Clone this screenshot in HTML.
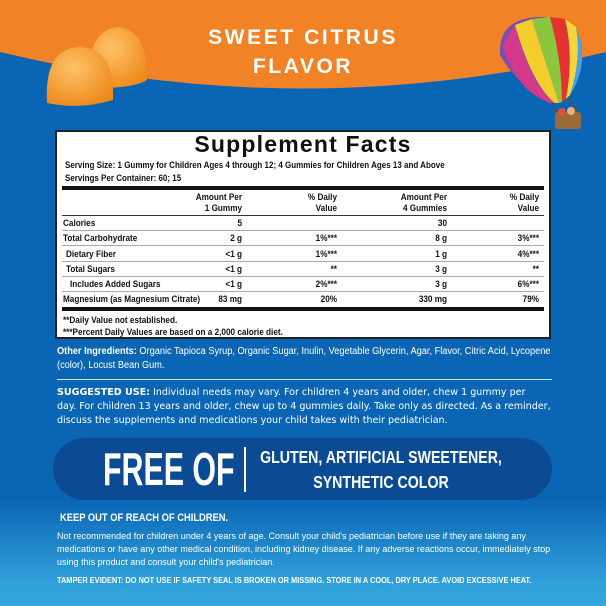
<!DOCTYPE html>
<html><head><meta charset="utf-8"><style>
*{margin:0;padding:0;box-sizing:border-box}
body{width:606px;height:606px;overflow:hidden;position:relative;font-family:"Liberation Sans",sans-serif;
background:linear-gradient(to bottom,#0a66b5 0px,#0a66b5 500px,#2f9fd9 580px,#36a8de 606px);}
.a{position:absolute;white-space:nowrap}
.n{transform:scaleX(var(--s,0.86));transform-origin:left top}
.t{color:#111;font-weight:bold;font-size:9.5px}
.r{text-align:right;transform-origin:right top}
.w{color:#fff}
</style></head><body>
<svg class="a" style="left:0;top:0" width="606" height="140">
<path d="M0 0H606V52Q303 125 0 52Z" fill="#f28226"/>
<defs><radialGradient id="g" cx="40%" cy="35%" r="70%"><stop offset="0" stop-color="#ffc268"/><stop offset="1" stop-color="#ee8a1c"/></radialGradient></defs>
<path d="M88 87Q86 30 118 27Q148 30 147 80Q130 90 88 87Z" fill="url(#g)"/>
<path d="M47 103Q44 48 80 47Q115 48 113 100Q80 110 47 103Z" fill="url(#g)"/>
<g>
<path d="M500 55Q498 18 540 17Q584 18 582 55Q580 85 556 103Q520 90 500 55Z" fill="#7a4fb0"/>
<path d="M503 45Q515 90 550 103L555 103Q530 85 515 25Z" fill="#d43a8c"/>
<path d="M515 25Q532 85 555 103L559 103Q548 70 532 19Z" fill="#f3cd2c"/>
<path d="M532 19Q548 70 559 103L562 102Q562 60 550 17Z" fill="#8cc63f"/>
<path d="M550 17Q562 60 562 102L566 99Q574 55 565 19Z" fill="#e2332f"/>
<path d="M565 19Q574 55 566 99L570 95Q582 58 576 27Z" fill="#f6d43c"/>
<path d="M576 27Q582 58 570 95Q586 70 581 42Z" fill="#4aa3e0"/>
<line x1="552" y1="103" x2="557" y2="113" stroke="#6b4a2a"/><line x1="568" y1="97" x2="578" y2="113" stroke="#6b4a2a"/>
<rect x="555" y="112" width="26" height="17" rx="3" fill="#9a6a3a"/>
<circle cx="562" cy="112" r="4" fill="#e05040"/><circle cx="571" cy="111" r="4" fill="#f0b070"/>
</g>
</svg>
<div class="a w" style="left:0;width:606px;top:23px;text-align:center;font-size:21px;font-weight:bold;letter-spacing:2.6px;line-height:29px;">SWEET CITRUS<br>FLAVOR</div>

<div class="a" style="left:55px;top:130px;width:496px;height:209px;background:#fff;border:2px solid #222;"></div>
<div class="a" style="left:0;width:606px;top:131px;text-align:center;font-size:23px;font-weight:bold;color:#111;letter-spacing:1.2px">Supplement Facts</div>
<div class="a n t" style="--s:0.89;left:65px;top:159px;font-size:9px;line-height:12.5px">Serving Size: 1 Gummy for Children Ages 4 through 12; 4 Gummies for Children Ages 13 and Above<br>Servings Per Container: 60; 15</div>
<div class="a" style="left:62px;top:186px;width:482px;height:4px;background:#111"></div>
<div class="a n t r" style="left:142px;width:100px;top:193px;line-height:10.5px">Amount Per<br>1 Gummy</div>
<div class="a n t r" style="left:237px;width:100px;top:193px;line-height:10.5px">% Daily<br>Value</div>
<div class="a n t r" style="left:347px;width:100px;top:193px;line-height:10.5px">Amount Per<br>4 Gummies</div>
<div class="a n t r" style="left:439px;width:100px;top:193px;line-height:10.5px">% Daily<br>Value</div>
<div class="a" style="left:62px;top:215px;width:482px;height:1px;background:#333"></div>
<div class="a" style="left:62px;top:230px;width:482px;height:1px;background:#aaa"></div>
<div class="a" style="left:62px;top:245px;width:482px;height:1px;background:#aaa"></div>
<div class="a" style="left:62px;top:261px;width:482px;height:1px;background:#aaa"></div>
<div class="a" style="left:62px;top:276px;width:482px;height:1px;background:#aaa"></div>
<div class="a" style="left:62px;top:291px;width:482px;height:1px;background:#aaa"></div>
<div class="a" style="left:62px;top:307px;width:482px;height:4px;background:#111"></div>

<div class="a n t" style="left:63px;top:218px">Calories</div>
<div class="a n t r" style="left:142px;width:100px;top:218px">5</div>
<div class="a n t r" style="left:347px;width:100px;top:218px">30</div>

<div class="a n t" style="left:63px;top:233px">Total Carbohydrate</div>
<div class="a n t r" style="left:142px;width:100px;top:233px">2 g</div>
<div class="a n t r" style="left:237px;width:100px;top:233px">1%***</div>
<div class="a n t r" style="left:347px;width:100px;top:233px">8 g</div>
<div class="a n t r" style="left:439px;width:100px;top:233px">3%***</div>

<div class="a n t" style="left:66px;top:249px">Dietary Fiber</div>
<div class="a n t r" style="left:142px;width:100px;top:249px">&lt;1 g</div>
<div class="a n t r" style="left:237px;width:100px;top:249px">1%***</div>
<div class="a n t r" style="left:347px;width:100px;top:249px">1 g</div>
<div class="a n t r" style="left:439px;width:100px;top:249px">4%***</div>

<div class="a n t" style="left:66px;top:264px">Total Sugars</div>
<div class="a n t r" style="left:142px;width:100px;top:264px">&lt;1 g</div>
<div class="a n t r" style="left:237px;width:100px;top:264px">**</div>
<div class="a n t r" style="left:347px;width:100px;top:264px">3 g</div>
<div class="a n t r" style="left:439px;width:100px;top:264px">**</div>

<div class="a n t" style="left:70px;top:279px">Includes Added Sugars</div>
<div class="a n t r" style="left:142px;width:100px;top:279px">&lt;1 g</div>
<div class="a n t r" style="left:237px;width:100px;top:279px">2%***</div>
<div class="a n t r" style="left:347px;width:100px;top:279px">3 g</div>
<div class="a n t r" style="left:439px;width:100px;top:279px">6%***</div>

<div class="a n t" style="left:63px;top:294px">Magnesium (as Magnesium Citrate)</div>
<div class="a n t r" style="left:142px;width:100px;top:294px">83 mg</div>
<div class="a n t r" style="left:237px;width:100px;top:294px">20%</div>
<div class="a n t r" style="left:347px;width:100px;top:294px">330 mg</div>
<div class="a n t r" style="left:439px;width:100px;top:294px">79%</div>

<div class="a n t" style="--s:0.91;left:63px;top:314px;font-size:9px;line-height:12px">**Daily Value not established.<br>***Percent Daily Values are based on a 2,000 calorie diet.</div>

<div class="a n w" style="--s:0.94;left:57px;top:345px;font-size:9.8px;line-height:14px"><b>Other Ingredients:</b> Organic Tapioca Syrup, Organic Sugar, Inulin, Vegetable Glycerin, Agar, Flavor, Citric Acid, Lycopene<br>(color), Locust Bean Gum.</div>
<div class="a" style="left:57px;top:379px;width:495px;height:1px;background:#cfe3f5"></div>
<div class="a n w" style="--s:0.995;left:57px;top:386px;font-family:'DejaVu Sans','Liberation Sans',sans-serif;font-size:9.6px;line-height:14px"><b>SUGGESTED USE:</b> Individual needs may vary. For children 4 years and older, chew 1 gummy per<br>day. For children 13 years and older, chew up to 4 gummies daily. Take only as directed. As a reminder,<br>discuss the supplements and medications your child takes with their pediatrician.</div>

<div class="a" style="left:53px;top:438px;width:499px;height:62px;border-radius:31px;background:#0b4b93"></div>
<div class="a n w" style="--s:0.66;left:103px;top:442px;font-size:46px;font-weight:bold;line-height:54px">FREE OF</div>
<div class="a" style="left:244px;top:447px;width:1.5px;height:45px;background:#fff"></div>
<div class="a w" style="left:231px;width:300px;top:445px;text-align:center;font-size:17.5px;font-weight:bold;line-height:25px;transform:scaleX(0.81);transform-origin:center top">GLUTEN, ARTIFICIAL SWEETENER,<br>SYNTHETIC COLOR</div>

<div class="a n w" style="--s:0.85;left:60px;top:512px;font-size:11px;font-weight:bold">KEEP OUT OF REACH OF CHILDREN.</div>
<div class="a n w" style="--s:0.94;left:57px;top:530px;font-size:9.6px;line-height:13.2px">Not recommended for children under 4 years of age. Consult your child's pediatrician before use if they are taking any<br>medications or have any other medical condition, including kidney disease. If any adverse reactions occur, immediately stop<br>using this product and consult your child's pediatrician.</div>
<div class="a n w" style="--s:0.86;left:57px;top:575px;font-size:8.6px;font-weight:bold">TAMPER EVIDENT: DO NOT USE IF SAFETY SEAL IS BROKEN OR MISSING. STORE IN A COOL, DRY PLACE. AVOID EXCESSIVE HEAT.</div>
</body></html>
